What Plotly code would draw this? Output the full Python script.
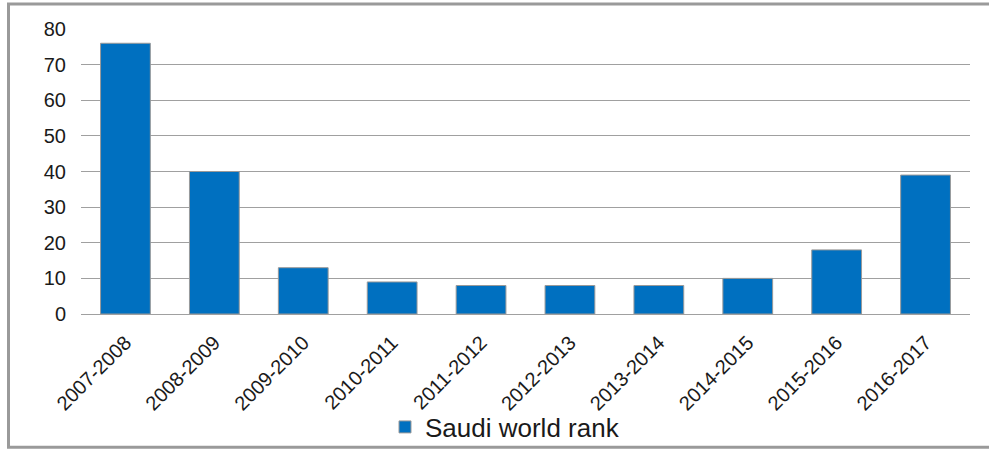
import plotly.graph_objects as go

categories = ["2007-2008", "2008-2009", "2009-2010", "2010-2011", "2011-2012",
              "2012-2013", "2013-2014", "2014-2015", "2015-2016", "2016-2017"]
saudi_rank = [76, 40, 13, 9, 8, 8, 8, 10, 18, 39]
y_ticks = [0, 10, 20, 30, 40, 50, 60, 70, 80]
series_name = "Saudi world rank"

W, H = 989, 450
L, R, T, B = 81, 19, 29, 135.5
pw, ph = W - L - R, H - T - B

def px_x(x):
    return (x - L) / pw

def px_y(y):
    return (H - B - y) / ph

fig = go.Figure()
fig.add_trace(go.Bar(
    x=categories, y=saudi_rank, name=series_name,
    marker=dict(color="#0070C0", line=dict(color="#999999", width=1)),
    showlegend=True,
))

fig.update_layout(
    width=W, height=H,
    margin=dict(l=L, r=R, t=T, b=B, autoexpand=False),
    paper_bgcolor="white", plot_bgcolor="white",
    font=dict(family="Liberation Sans, Arial, sans-serif", color="#1a1a1a"),
    bargap=0.44,
    showlegend=True,
    legend=dict(
        orientation="h", xref="container", x=385 / W, xanchor="left",
        yref="container", y=1 - 427 / H, yanchor="middle",
        font=dict(size=26, color="#1a1a1a"),
        bgcolor="rgba(0,0,0,0)", itemwidth=30,
    ),
    xaxis=dict(
        tickangle=-45, tickfont=dict(size=20), showgrid=False,
        showline=False, ticks="", zeroline=False, automargin=False,
        ticklabelstandoff=12,
    ),
    yaxis=dict(
        range=[0, 80], tickvals=y_ticks, tickfont=dict(size=20),
        showgrid=True, gridcolor="#A0A0A0", gridwidth=1,
        zeroline=True, zerolinecolor="#A0A0A0", zerolinewidth=1,
        showline=False, ticks="", ticklabelstandoff=14, automargin=False,
    ),
    shapes=[dict(
        type="rect", xref="paper", yref="paper",
        x0=px_x(8.5), x1=px_x(1010), y0=px_y(448), y1=px_y(4),
        line=dict(color="#9A9A9A", width=3), fillcolor="rgba(0,0,0,0)",
        layer="below",
    )],
)

fig.write_html("out.html")
